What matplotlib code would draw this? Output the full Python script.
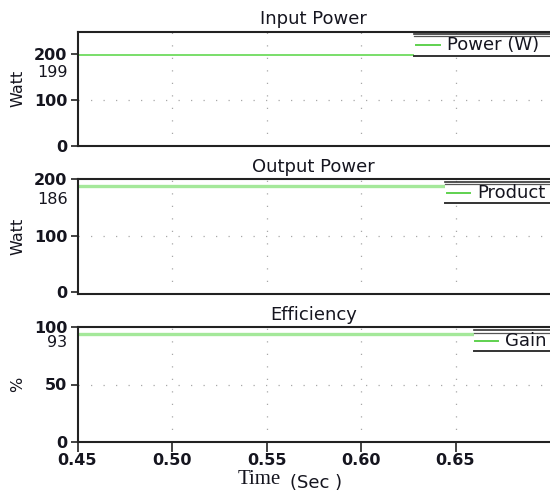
import matplotlib
matplotlib.use("Agg")
import matplotlib.pyplot as plt
from matplotlib.patches import Rectangle
from matplotlib.lines import Line2D

# ---- data ----
time = [0.45, 0.70]
input_power = [199, 199]
output_power = [187, 187]
efficiency = [93.5, 93.5]
titles = ["Input Power", "Output Power", "Efficiency"]
ylabels = ["Watt", "Watt", "%"]
legend_labels = ["Power (W)", "Product", "Gain"]
value_labels = ["199", "186", "93"]
x_ticks = [0.45, 0.50, 0.55, 0.60, 0.65]
x_ticklabels = ["0.45", "0.50", "0.55", "0.60", "0.65"]
y_ticks = [[0, 100, 200], [0, 100, 200], [0, 50, 100]]

W, H = 550, 493
plt.rcParams['font.family'] = ['DejaVu Sans']
fig = plt.figure(figsize=(W / 100, H / 100), dpi=100)

def fy(py):
    return 1 - py / H

left = 77.5 / W
width = 1 - left
panels = [(31.5, 146), (179, 294), (327, 442)]
ylims = [(0, 250), (-3, 200), (0, 100)]
series = [input_power, output_power, efficiency]
line_colors = ["#62d850", "#a4e89a", "#a4e89a"]
line_widths = [1.2, 2.4, 2.4]
# pixel offset of the value label below the line
label_offsets_px = [-18, -13, -8]
# legend geometry in axes fraction: (left, top, bottom, handle_start, handle_end, text_x, center_y)
leg_geom = [
    (0.712, 0.980, 0.783, 0.716, 0.767, 0.782, 0.878),
    (0.778, 0.977, 0.789, 0.781, 0.831, 0.846, 0.881),
    (0.839, 0.974, 0.791, 0.842, 0.890, 0.905, 0.881),
]
tc = "#15151f"
grid_color = "#a8a8a8"
tick_font = dict(fontsize=11.5, fontweight='bold', color=tc)

for i, (top, bot) in enumerate(panels):
    ax = fig.add_axes([left, fy(bot), width, fy(top) - fy(bot)])
    ax.plot(time, series[i], color=line_colors[i], lw=line_widths[i], zorder=2,
            solid_capstyle='butt')
    ax.set_xlim(0.45, 0.70)
    ax.set_ylim(*ylims[i])
    ax.set_xticks(x_ticks)
    ax.set_yticks(y_ticks[i])
    ax.set_yticklabels([str(v) for v in y_ticks[i]], **tick_font)
    ax.tick_params(axis='y', length=5.4, width=1.2, pad=2, color="#222")
    if i == 2:
        ax.set_xticklabels(x_ticklabels, **tick_font)
        ax.tick_params(axis='x', length=7, width=1.2, pad=1, color="#222")
    else:
        ax.tick_params(axis='x', length=0, labelbottom=False)
    for s in ['left', 'bottom', 'top']:
        ax.spines[s].set_linewidth(1.5)
        ax.spines[s].set_color("#222")
    ax.spines['right'].set_visible(False)
    # dotted grid
    for xv in x_ticks[1:]:
        ax.axvline(xv, color=grid_color, lw=0.9, ls=(0, (1, 9)), zorder=1)
    ax.axhline(y_ticks[i][1], color=grid_color, lw=0.9, ls=(0, (1, 9)), zorder=1)

    ax.annotate(titles[i], xy=(0.5, 1.0), xycoords='axes fraction',
                xytext=(0, 5.3), textcoords='offset points', ha='center',
                va='baseline', fontsize=13, color=tc)
    ax.set_ylabel(ylabels[i], fontsize=11.5, color=tc)
    ax.yaxis.set_label_coords(-0.111, 0.5)

    ax.annotate(value_labels[i], xy=(0, series[i][0]),
                xycoords=('axes fraction', 'data'),
                xytext=(-10 * 0.72, label_offsets_px[i] * 0.72),
                textcoords='offset points',
                ha='right', va='center', fontsize=11.5, color=tc,
                annotation_clip=False)

    # legend
    lx, ltop, lbot, h0, h1, tx, cy = leg_geom[i]
    ax.add_patch(Rectangle((lx, lbot), 1 - lx + 0.01, ltop - lbot,
                           transform=ax.transAxes, facecolor='white',
                           edgecolor='none', zorder=3, clip_on=False))
    ax.add_line(Line2D([lx, 1.01], [ltop, ltop], transform=ax.transAxes,
                       color="#333", lw=1.2, zorder=4, clip_on=False))
    ax.add_line(Line2D([lx, 1.01], [ltop - 0.022, ltop - 0.022], transform=ax.transAxes,
                       color="#555", lw=0.9, zorder=4, clip_on=False))
    ax.add_line(Line2D([lx, 1.01], [lbot, lbot], transform=ax.transAxes,
                       color="#333", lw=1.4, zorder=4, clip_on=False))
    ax.add_line(Line2D([h0, h1], [cy, cy], transform=ax.transAxes,
                       color="#5fd14f", lw=1.4, zorder=4))
    ax.text(tx, cy, legend_labels[i], transform=ax.transAxes, ha='left',
            va='center', fontsize=13, color=tc, zorder=5)

fig.text(238 / W, fy(484.5), "Time", fontsize=15, family='Liberation Serif',
         color=tc, ha='left', va='baseline')
fig.text(290 / W, fy(483.5), "(Sec )", fontsize=13, color=tc, ha='left',
         va='center')

fig.savefig("out.png", dpi=100)
